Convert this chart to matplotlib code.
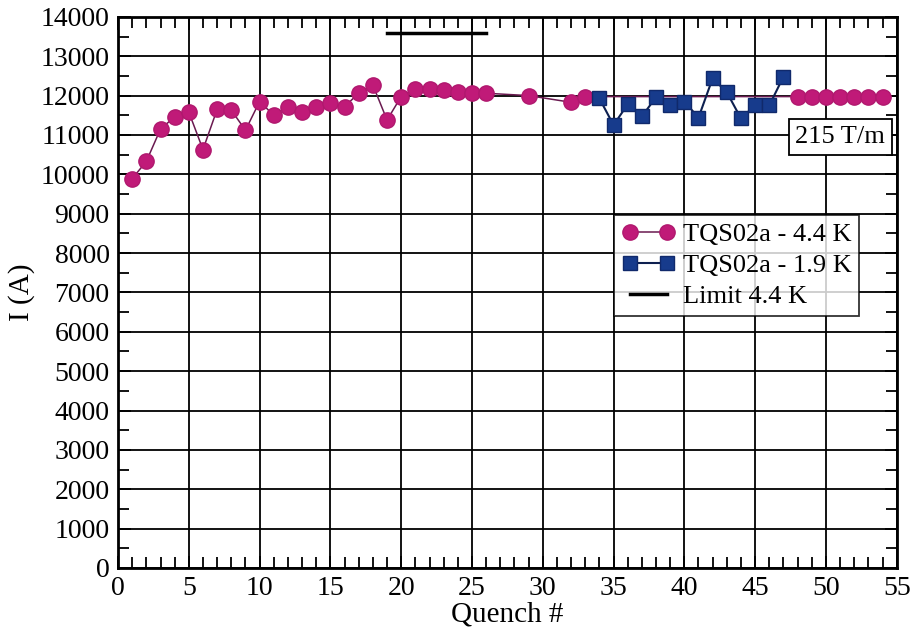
import matplotlib
matplotlib.use("Agg")
import matplotlib.pyplot as plt
from matplotlib.ticker import MultipleLocator

plt.rcParams['font.family'] = ['Liberation Serif', 'DejaVu Serif']
plt.rcParams['mathtext.fontset'] = 'stix'

# Quench history, 4.4 K runs
q_44 = [1, 2, 3, 4, 5, 6, 7, 8, 9, 10, 11, 12, 13, 14, 15, 16, 17, 18, 19, 20,
        21, 22, 23, 24, 25, 26, 29, 32, 33, 48, 49, 50, 51, 52, 53, 54]
i_44 = [9890, 10330, 11150, 11460, 11580, 10630, 11650, 11630, 11120, 11850,
        11500, 11720, 11580, 11720, 11820, 11720, 12060, 12270, 11380, 11975,
        12170, 12170, 12130, 12100, 12060, 12060, 12000, 11830, 11975,
        11975, 11960, 11960, 11960, 11960, 11960, 11960]

# Quench history, 1.9 K runs
q_19 = [34, 35, 36, 37, 38, 39, 40, 41, 42, 43, 44, 45, 46, 47]
i_19 = [11930, 11250, 11780, 11470, 11960, 11760, 11850, 11440, 12440, 12085,
        11420, 11750, 11750, 12480]

# Short-sample limit at 4.4 K
limit_q = [19, 26]
limit_i = [13600, 13600]

label_44 = "TQS02a - 4.4 K"
label_19 = "TQS02a - 1.9 K"
label_lim = "Limit 4.4 K"
gradient_text = "215 T/m"

fig = plt.figure(figsize=(9.15, 6.32), dpi=100)
ax = fig.add_axes([0.129, 0.1013, 0.851, 0.872])

ax.plot(q_44, i_44, '-o', color='#6a1a50', lw=1.1, ms=11,
        mfc='#c01a78', mec='#b0186e', mew=1.0, label=label_44, zorder=4)
ax.plot(q_19, i_19, '-s', color='#0d1f4f', lw=1.5, ms=10,
        mfc='#173b8c', mec='#10296b', mew=1.0, label=label_19, zorder=5)
ax.plot(limit_q, limit_i, '-', color='black', lw=2.5, label=label_lim, zorder=4)

ax.set_xlim(0, 55)
ax.set_ylim(0, 14000)
ax.xaxis.set_major_locator(MultipleLocator(5))
ax.xaxis.set_minor_locator(MultipleLocator(1))
ax.yaxis.set_major_locator(MultipleLocator(1000))
ax.yaxis.set_minor_locator(MultipleLocator(500))

ax.grid(True, which='major', color='black', lw=1.3)
ax.set_axisbelow(True)
ax.tick_params(which='both', direction='in', top=True, right=True,
               labelsize=20, width=1.3)
ax.tick_params(which='major', length=9, pad=6)
ax.tick_params(which='minor', length=8)
for sp in ax.spines.values():
    sp.set_linewidth(2)

ax.set_xlabel("Quench #", fontsize=21, labelpad=0)
ax.set_ylabel("I (A)", fontsize=21, labelpad=4)

leg = ax.legend(loc='upper right', bbox_to_anchor=(0.952, 0.641), numpoints=2,
                fontsize=19, frameon=True, fancybox=False, borderpad=0.3,
                handlelength=2.0, handletextpad=0.3, labelspacing=0.28,
                borderaxespad=0)
leg.get_frame().set_edgecolor('black')
leg.get_frame().set_linewidth(1.3)

ax.text(51.0, 10950, gradient_text, fontsize=19, ha='center', va='center',
        bbox=dict(boxstyle='square,pad=0.25', fc='white', ec='black', lw=1.3),
        zorder=6)

fig.savefig("out.png", dpi=100)
